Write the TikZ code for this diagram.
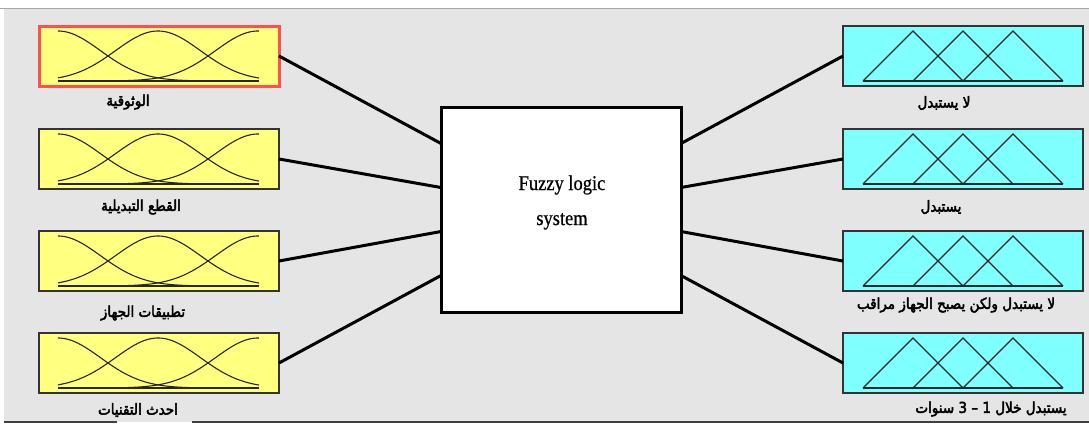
\documentclass[tikz,border=0pt]{standalone}
\usepackage{fontspec}
\TeXXeTstate=1
\newfontfamily\arabicfont[Script=Arabic,FakeBold=3,FakeStretch=0.9]{DejaVu Sans}
\newfontfamily\serifc[FakeStretch=0.88,FakeBold=0.6]{Liberation Serif}
\definecolor{bgc}{HTML}{E5E5E5}
\definecolor{ycol}{HTML}{FFFF80}
\definecolor{ccol}{HTML}{80FFFF}
\definecolor{rcol}{HTML}{FF5050}
\tikzset{
  mfbox/.style={draw=black!80, line width=1.2pt, minimum width=240pt, minimum height=60pt, inner sep=0pt, outer sep=0pt},
  ybox/.style={mfbox, fill=ycol},
  cbox/.style={mfbox, fill=ccol},
  fls/.style={draw=black, fill=white, line width=3pt, minimum width=240pt, minimum height=205pt, inner sep=0pt, outer sep=0pt},
  conn/.style={line width=3pt, black},
  mfcurve/.style={line width=1.1pt, black!85},
  lab/.style={font=\arabicfont\fontsize{15}{17}\selectfont, inner sep=0pt}
}
\begin{document}
\begin{tikzpicture}[x=1pt,y=-1pt]
\useasboundingbox (0,0) rectangle (1089,440);
\fill[bgc] (4,8) rectangle (1089,422);
\draw[black!35, line width=1pt] (0,8) -- (1089,8);
\draw[black!75, line width=1.5pt] (4,422) -- (117,422) (192,422) -- (1089,422);

% input boxes
\node[ybox] (L1) at (159,56) {};
\node[ybox] (L2) at (159,159) {};
\node[ybox] (L3) at (159,261) {};
\node[ybox] (L4) at (159,363) {};
\draw[rcol, line width=3pt] (L1.north west) rectangle (L1.south east);

% output boxes
\node[cbox] (R1) at (963,56) {};
\node[cbox] (R2) at (963,159) {};
\node[cbox] (R3) at (963,261) {};
\node[cbox] (R4) at (963,363) {};

% membership functions
\foreach \t in {26,129,231,333} {
  \foreach \c in {0,1,2}
    \draw[mfcurve] plot[domain=0:2.01, samples=90, smooth] ({58+100*\x},{\t+55-50*exp(-1*((\x-\c)^2)/0.36125)});
  \draw[mfcurve] (58,\t+55) -- (259,\t+55);
  \draw[mfcurve] (863,\t+55) -- (913,\t+5) -- (963,\t+55);
  \draw[mfcurve] (913,\t+55) -- (963,\t+5) -- (1013,\t+55);
  \draw[mfcurve] (963,\t+55) -- (1013,\t+5) -- (1063,\t+55);
  \draw[mfcurve] (863,\t+55) -- (1063,\t+55);
}

% central system
\node[fls] (C) at (561,209.5) {};
\node[font=\serifc\fontsize{21}{35}\selectfont, align=center, inner sep=0pt] (Ct) at (562,202.5) {Fuzzy logic\\system};

% connectors
\draw[conn] (L1.east) -- ([yshift=66pt]C.west);
\draw[conn] (L2.east) -- ([yshift=22pt]C.west);
\draw[conn] (L3.east) -- ([yshift=-22pt]C.west);
\draw[conn] (L4.east) -- ([yshift=-66pt]C.west);
\draw[conn] (R1.west) -- ([yshift=66pt]C.east);
\draw[conn] (R2.west) -- ([yshift=22pt]C.east);
\draw[conn] (R3.west) -- ([yshift=-22pt]C.east);
\draw[conn] (R4.west) -- ([yshift=-66pt]C.east);

% labels
\node[lab] (l1) at (128,102) {\beginR الوثوقية\endR};
\node[lab] (l2) at (141,207) {\beginR القطع التبديلية\endR};
\node[lab] (l3) at (143,313) {\beginR تطبيقات الجهاز\endR};
\node[lab] (l4) at (138,410) {\beginR احدث التقنيات\endR};
\node[lab] (r1) at (944,103) {\beginR لا يستبدل\endR};
\node[lab] (r2) at (941,207) {\beginR يستبدل\endR};
\node[lab] (r3) at (956,305) {\beginR لا يستبدل ولكن يصبح الجهاز مراقب\endR};
\node[lab] (r4) at (991,409) {\beginR يستبدل خلال 1 – 3 سنوات\endR};
\end{tikzpicture}
\end{document}
